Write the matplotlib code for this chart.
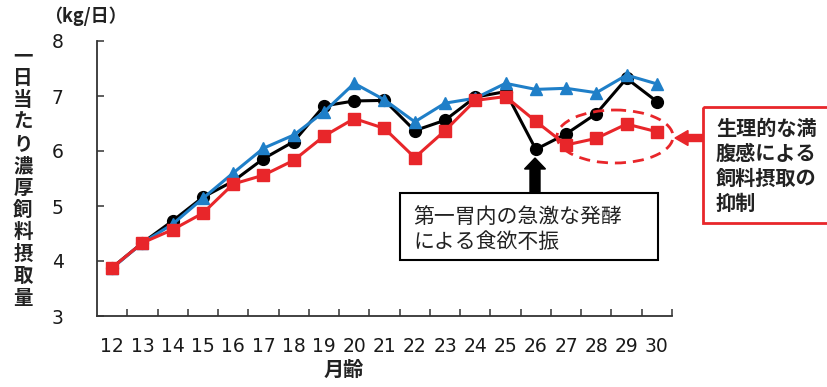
import matplotlib
matplotlib.use('Agg')
import matplotlib.pyplot as plt
from matplotlib.patches import Ellipse, Rectangle, FancyArrow
from matplotlib.transforms import Affine2D

plt.rcParams['font.family'] = ['Noto Sans CJK JP', 'DejaVu Sans']

months = ['12', '13', '14', '15', '16', '17', '18', '19', '20', '21',
          '22', '23', '24', '25', '26', '27', '28', '29', '30']
black_vals = [3.88, 4.33, 4.73, 5.16, 5.45, 5.86, 6.17, 6.82, 6.91, 6.92,
              6.37, 6.56, 6.98, 7.08, 6.03, 6.31, 6.68, 7.32, 6.90]
blue_vals = [3.87, 4.33, 4.67, 5.14, 5.60, 6.05, 6.29, 6.71, 7.23, 6.93,
             6.53, 6.87, 6.96, 7.23, 7.12, 7.14, 7.06, 7.38, 7.22]
red_vals = [3.88, 4.33, 4.57, 4.87, 5.40, 5.56, 5.83, 6.27, 6.59, 6.41,
            5.88, 6.37, 6.92, 6.99, 6.54, 6.11, 6.23, 6.49, 6.35]
y_ticks = [3, 4, 5, 6, 7, 8]

W, H = 828, 387
fig = plt.figure(figsize=(W / 100, H / 100), dpi=100)
pix = Affine2D().scale(1 / W, -1 / H).translate(0, 1) + fig.transFigure

ax = fig.add_axes([97 / W, 1 - 316 / H, (672 - 97) / W, (316 - 41) / H])
x = list(range(len(months)))

ax.plot(x, black_vals, color='black', lw=2.2, marker='o', ms=8.5, zorder=3)
ax.plot(x, blue_vals, color='#1f7fc8', lw=2.2, marker='^', ms=9, zorder=4)
ax.plot(x, red_vals, color='#e8262a', lw=2.2, marker='s', ms=9, zorder=5)

num_font = ['DejaVu Sans']
ax.set_xlim(-0.5, len(months) - 0.5)
ax.set_ylim(3, 8)
ax.set_xticks([i + 0.5 for i in range(len(months))])
ax.set_xticklabels([])
ax.set_xticks(x, minor=True)
ax.set_xticklabels(months, minor=True, fontsize=13.5, family=num_font, color='#1a1a1a')
ax.tick_params(axis='x', which='major', direction='in', length=5, width=1.1, color='#333333')
ax.tick_params(axis='x', which='minor', length=0, pad=15)
ax.set_yticks(y_ticks)
ax.set_yticklabels([str(v) for v in y_ticks], fontsize=13.5, family=num_font, color='#1a1a1a')
ax.tick_params(axis='y', direction='in', length=5, width=1.1, color='#333333', pad=24)

for s in ['top', 'right']:
    ax.spines[s].set_visible(False)
for s in ['left', 'bottom']:
    ax.spines[s].set_color('#333333')
    ax.spines[s].set_linewidth(1.3)

# axis labels
fig.text(85 / W, 1 - 16 / H, '（kg/日）', fontsize=13, fontweight='bold',
         ha='center', va='center', color='#222222')
ylabel = '一日当たり濃厚飼料摂取量'
for i, ch in enumerate(ylabel):
    yy = 57 + i * (298 - 57) / (len(ylabel) - 1)
    fig.text(23 / W, 1 - yy / H, ch, fontsize=14, fontweight='bold',
             ha='center', va='center', color='#222222')
fig.text(344 / W, 1 - 369 / H, '月齢', fontsize=14.5, fontweight='bold',
         ha='center', va='center', color='#222222')

# dashed ellipse
fig.add_artist(Ellipse((615, 136.5), 116, 53, fill=False, ls=(0, (4, 2.5)),
                       lw=2, edgecolor='#e8262a', transform=pix))

# black annotation box + arrow
fig.add_artist(Rectangle((400, 193), 258, 67, fill=True, facecolor='white',
                         edgecolor='black', lw=1.5, transform=pix))
fig.add_artist(FancyArrow(535, 193, 0, -35, width=10, head_width=21, head_length=11,
                          length_includes_head=True, color='black', transform=pix))
fig.text(413 / W, 1 - 217 / H, '第一胃内の急激な発酵', fontsize=15, ha='left', va='center',
         color='#222222')
fig.text(413 / W, 1 - 242 / H, 'による食欲不振', fontsize=15, ha='left', va='center',
         color='#222222')

# red annotation box + arrow
fig.add_artist(Rectangle((703, 107), 130, 116, fill=False,
                         edgecolor='#e8262a', lw=2, transform=pix))
fig.add_artist(FancyArrow(703, 138, -28, 0, width=7, head_width=15, head_length=13,
                          length_includes_head=True, color='#e8262a', transform=pix))
red_lines = ['生理的な満', '腹感による', '飼料摂取の', '抑制']
for i, t in enumerate(red_lines):
    fig.text(716 / W, 1 - (128 + 25 * i) / H, t, fontsize=14.5, fontweight='bold',
             ha='left', va='center', color='#222222')

fig.savefig('out.png', dpi=100)
